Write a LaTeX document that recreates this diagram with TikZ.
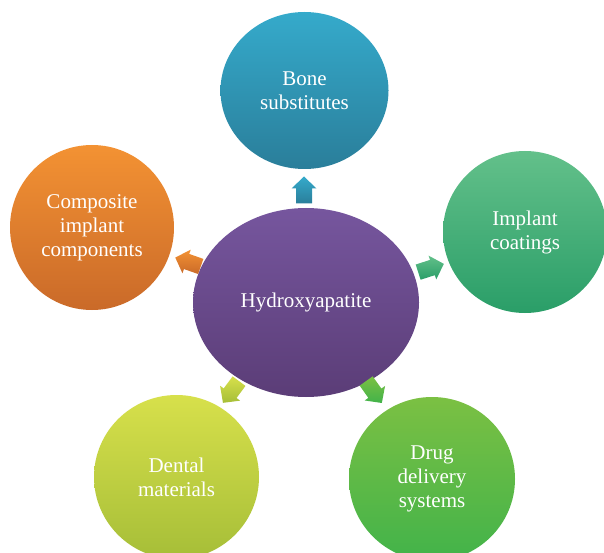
\documentclass[tikz,border=0pt]{standalone}
\usepackage{fontspec}
\setmainfont{Liberation Serif}
\usetikzlibrary{shapes.geometric}

% circle fills, light top to dark bottom
\definecolor{boneT}{HTML}{35AACB}\definecolor{boneB}{HTML}{2A7E9A}
\definecolor{compT}{HTML}{F39233}\definecolor{compB}{HTML}{CA6A29}
\definecolor{implT}{HTML}{63C08A}\definecolor{implB}{HTML}{2A9E68}
\definecolor{hydT}{HTML}{76569E}\definecolor{hydB}{HTML}{5B3D77}
\definecolor{dentT}{HTML}{D7E04B}\definecolor{dentB}{HTML}{A6BE38}
\definecolor{drugT}{HTML}{7BC043}\definecolor{drugB}{HTML}{42B34A}

\tikzset{
  topic/.style={ellipse, inner sep=0pt, align=center, text=white,
    font=\fontsize{21}{24}\selectfont},
}

\begin{document}
\begin{tikzpicture}[x=1pt, y=1pt]
  \useasboundingbox (0,0) rectangle (604,552);

  % central topic and its five applications
  \node[topic, minimum width=226, minimum height=189,
        top color=hydT, bottom color=hydB] (hyd) at (306,249.5) {Hydroxyapatite};
  \node[topic, minimum width=168, minimum height=157,
        top color=boneT, bottom color=boneB] (bone) at (304.5,461.5) {Bone\\substitutes};
  \node[topic, minimum width=164, minimum height=165,
        top color=compT, bottom color=compB] (comp) at (92,324.5) {Composite\\implant\\components};
  \node[topic, minimum width=164, minimum height=162,
        top color=implT, bottom color=implB] (impl) at (525,320) {Implant\\coatings};
  \node[topic, minimum width=165, minimum height=164,
        top color=dentT, bottom color=dentB] (dent) at (176.5,75) {Dental\\materials};
  \node[topic, minimum width=166, minimum height=164,
        top color=drugT, bottom color=drugB] (drug) at (432,73) {Drug\\delivery\\systems};

  % block arrows pointing from the centre outwards
  \coordinate (aBone) at (304,362);
  \coordinate (aComp) at (188,290);
  \coordinate (aImpl) at (431,284);
  \coordinate (aDent) at (231,160);
  \coordinate (aDrug) at (374,160);

  \foreach \c/\a/\ct/\cb in {aBone/90/boneT/boneB, aComp/160.7/compT/compB,
      aImpl/17.8/implT/implB, aDent/233.4/dentT/dentB, aDrug/-54.5/drugT/drugB}{
    \shade[top color=\ct, bottom color=\cb]
      ([shift={(\c)},rotate=\a]13.5,0) -- ([shift={(\c)},rotate=\a]1.5,12.5)
      -- ([shift={(\c)},rotate=\a]1.5,8) -- ([shift={(\c)},rotate=\a]-13.5,8)
      -- ([shift={(\c)},rotate=\a]-13.5,-8) -- ([shift={(\c)},rotate=\a]1.5,-8)
      -- ([shift={(\c)},rotate=\a]1.5,-12.5) -- cycle;
  }
\end{tikzpicture}
\end{document}
